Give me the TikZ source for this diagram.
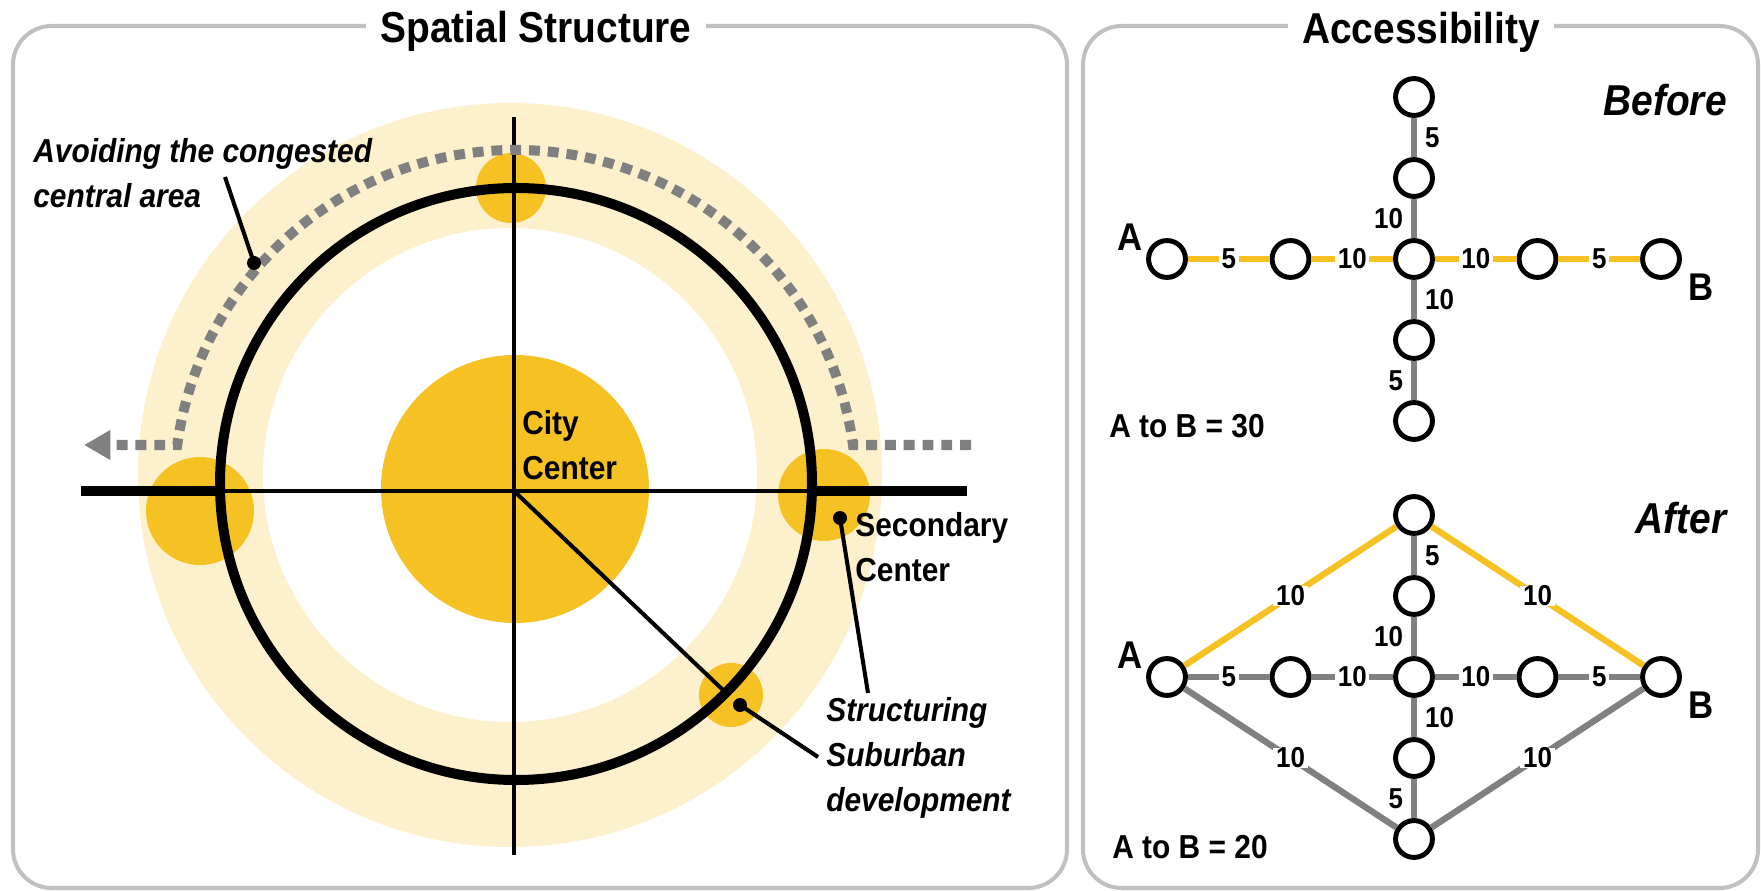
\documentclass[tikz,border=0pt]{standalone}
\usepackage{fontspec}
\setmainfont[FakeStretch=0.9]{Liberation Sans}
\usetikzlibrary{arrows.meta,positioning,calc}
\definecolor{gold}{RGB}{246,194,35}
\definecolor{pale}{RGB}{253,240,204}
\definecolor{midgray}{RGB}{128,128,128}
\definecolor{framegray}{RGB}{192,192,192}
\newcommand{\txtfont}{\fontsize{18.9pt}{25.5pt}\selectfont\bfseries}
\newcommand{\bigfont}{\fontsize{24.6pt}{30pt}\selectfont\bfseries}
\newcommand{\numfont}{\fontsize{16.4pt}{18pt}\selectfont\bfseries}
\newcommand{\namefont}{\fontsize{22pt}{26pt}\selectfont\bfseries}
\tikzset{
  panel/.style={draw=framegray,line width=2.3pt,rounded corners=22pt},
  paneltitle/.style={fill=white,inner xsep=8pt,inner ysep=2pt,anchor=base,font=\bigfont},
  axis/.style={line width=2.3pt},
  ringroad/.style={line width=5.7pt},
  route/.style={midgray,line width=5.7pt,dash pattern=on 6.2pt off 4.5pt,-{Triangle[length=15pt,width=16pt]}},
  pointer/.style={line width=2.3pt},
  note/.style={font=\txtfont,align=left,inner sep=0pt,anchor=north west},
  station/.style={circle,draw,line width=2.8pt,fill=white,minimum size=21pt,inner sep=0pt},
  endname/.style={font=\namefont,inner sep=0pt},
  link/.style={line width=3.6pt},
  hot/.style={link,gold},
  cold/.style={link,midgray},
  cost/.style={font=\numfont,text=black,fill=white,inner xsep=1.5pt,inner ysep=0pt},
  sidecost/.style={font=\numfont,text=black,inner sep=0pt}
}
\begin{document}
\begin{tikzpicture}[x=0.02cm,y=0.02cm]
\useasboundingbox (0,0) rectangle (1761,890);
% frames
\draw[panel] (13,2) rectangle (1067,864);\node[paneltitle] (tSpace) at (536,847) {Spatial Structure};
\draw[panel] (1083,2) rectangle (1758,864);\node[paneltitle] (tAccess) at (1421,846) {Accessibility};
% spatial structure
\fill[pale,even odd rule] (510,415) circle (372) (510,415) circle (247);
\fill[gold] (515,401) circle (134);
\foreach \x/\y/\r in {511/702/35,200/379/54,824/395/46,731/195/32}{\fill[gold] (\x,\y) circle (\r);}
\draw[axis] (514,773)--(514,35);\draw[axis] (81,399)--(967,399);\draw[axis] (514,399)--(723,200);
\draw[ringroad] (516,406) circle (296);
\draw[ringroad] (81,399)--(220,399) (812,399)--(967,399);
\draw[route] (971,445)--(853,445) arc[start angle=7.75,end angle=172.25,radius=341]--(84,445);
\node[note,font=\txtfont\itshape] (avoid) at (33,752) {Avoiding the congested\\central area};
\node[note] (city) at (522,480) {City\\Center};
\node[note] (second) at (855,378) {Secondary\\Center};
\node[note,font=\txtfont\itshape] (suburb) at (826,193) {Structuring\\Suburban\\development};
\coordinate (pAvoid) at (254,627);\coordinate (eAvoid) at (225,713);
\coordinate (pSecond) at (840,372);\coordinate (eSecond) at (868,197);
\coordinate (pSuburb) at (740,185);\coordinate (eSuburb) at (818,133);
\foreach \p in {Avoid,Second,Suburb}{\fill (p\p) circle (7);\draw[pointer] (p\p)--(e\p);}
% accessibility
\foreach \n/\x in {A/1167,W/1290.5,C/1414,E/1537.5,B/1661}{\node[station] (b\n) at (\x,631) {};\node[station] (a\n) at (\x,213) {};}
\foreach \n/\y in {NN/162,N/81,S/-81,SS/-162}{\node[station] (b\n) at (1414,{631+\y}) {};\node[station] (a\n) at (1414,{213+\y}) {};}
\draw[hot] (bA)--node[cost]{5}(bW)--node[cost]{10}(bC)--node[cost]{10}(bE)--node[cost]{5}(bB);
\draw[cold] (bNN)--node[sidecost,right=4.5pt]{5}(bN)--node[sidecost,left=4.5pt]{10}(bC)--node[sidecost,right=4.5pt]{10}(bS)--node[sidecost,left=4.5pt]{5}(bSS);
\draw[hot] (aA)--node[cost]{10}(aNN)--node[cost]{10}(aB);
\draw[cold] (aA)--node[cost]{10}(aSS)--node[cost]{10}(aB);
\draw[cold] (aA)--node[cost]{5}(aW)--node[cost]{10}(aC)--node[cost]{10}(aE)--node[cost]{5}(aB);
\draw[cold] (aNN)--node[sidecost,right=4.5pt]{5}(aN)--node[sidecost,left=4.5pt]{10}(aC)--node[sidecost,right=4.5pt]{10}(aS)--node[sidecost,left=4.5pt]{5}(aSS);
\foreach \s in {b,a}{\node[endname] (\s Aname) at ($(\s A)+(-37,22)$) {A};\node[endname] (\s Bname) at ($(\s B)+(40,-28)$) {B};}
\node[font=\bigfont\itshape,anchor=base east,inner sep=0pt] (before) at (1727,774) {Before};
\node[font=\bigfont\itshape,anchor=base east,inner sep=0pt] (after) at (1727,357) {After};
\node[font=\txtfont,anchor=base west,inner sep=0pt] (sumBefore) at (1109,452) {A to B = 30};
\node[font=\txtfont,anchor=base west,inner sep=0pt] (sumAfter) at (1112,32) {A to B = 20};
\end{tikzpicture}
\end{document}
